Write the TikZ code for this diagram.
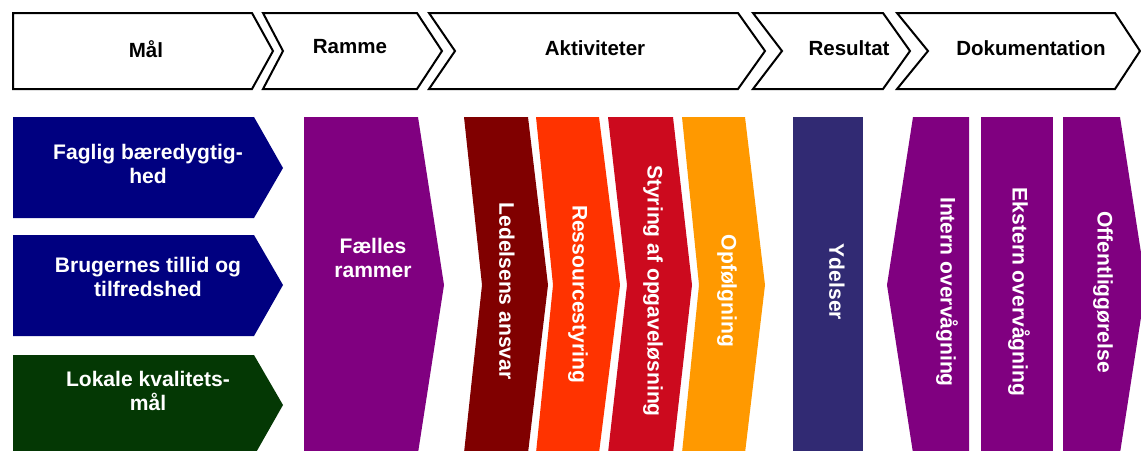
\documentclass[tikz,border=0pt]{standalone}
\usepackage{fontspec}
\setmainfont{Liberation Sans}
\usepackage{xcolor}
\usepackage{tikz}
\usetikzlibrary{positioning}
\definecolor{Ink}{HTML}{000000}
\definecolor{Navy}{HTML}{000080}
\definecolor{Forest}{HTML}{043804}
\definecolor{Plum}{HTML}{800080}
\definecolor{Maroon}{HTML}{800000}
\definecolor{Flame}{HTML}{FF3300}
\definecolor{Crimson}{HTML}{CC0A1E}
\definecolor{Amber}{HTML}{FF9900}
\definecolor{Indigo}{HTML}{312A73}
\tikzset{
  hdr/.style={draw=Ink,line width=1.5pt,fill=white,line join=miter},
  hdrlabel/.style={font=\fontsize{15.4}{18}\selectfont\bfseries,text=Ink},
  boxlabel/.style={font=\fontsize{15.8}{18.4}\selectfont\bfseries,text=white,align=center},
  vlabel/.style={boxlabel,rotate=-90,font=\fontsize{15.8}{18.4}\selectfont\bfseries}
}
\begin{document}
\begin{tikzpicture}[x=0.75pt,y=-0.75pt]
  \useasboundingbox (0,0) rectangle (1141,450);
  \clip (0,0) rectangle (1141,450);
  % header arrows
  \draw[hdr] (13,13) -- (252,13) -- (273,51) -- (252,89) -- (13,89) -- cycle;
  \draw[hdr] (263,13) -- (417,13) -- (442,51) -- (417,89) -- (263,89) -- (283,51) -- cycle;
  \draw[hdr] (429,13) -- (738,13) -- (765,51) -- (738,89) -- (429,89) -- (455,51) -- cycle;
  \draw[hdr] (753,13) -- (883,13) -- (910,51) -- (883,89) -- (753,89) -- (782,51) -- cycle;
  \draw[hdr] (897,13) -- (1115,13) -- (1140,51) -- (1115,89) -- (897,89) -- (928,51) -- cycle;
  \node[hdrlabel] (maal) at (146,49) {Mål};
  \node[hdrlabel] (ramme) at (350,47) {Ramme};
  \node[hdrlabel] (aktiv) at (595,48) {Aktiviteter};
  \node[hdrlabel] (result) at (849,48) {Resultat};
  \node[hdrlabel] (dok) at (1031,48) {Dokumentation};
  % goals
  \fill[Navy] (13,117) -- (254,117) -- (283,168) -- (254,218) -- (13,218) -- cycle;
  \fill[Navy] (13,235) -- (254,235) -- (283,285) -- (254,336) -- (13,336) -- cycle;
  \fill[Forest] (13,355) -- (254,355) -- (283,405) -- (254,456) -- (13,456) -- cycle;
  \node[boxlabel] (faglig) at (148,164) {Faglig bæredygtig-\\hed};
  \node[boxlabel] (brugere) at (148,277) {Brugernes tillid og\\tilfredshed};
  \node[boxlabel] (lokale) at (148,391) {Lokale kvalitets-\\mål};
  % frame
  \fill[Plum] (304,117) -- (418,117) -- (444,285) -- (418,453) -- (304,453) -- cycle;
  \node[boxlabel] (faelles) at (373,258) {Fælles\\rammer};
  % activities
  \fill[Maroon] (464,117) -- (528,117) -- (548,285) -- (528,453) -- (464,453) -- (482,285) -- cycle;
  \fill[Flame] (536,117) -- (599,117) -- (620,285) -- (599,453) -- (536,453) -- (553,285) -- cycle;
  \fill[Crimson] (608,117) -- (673,117) -- (692,285) -- (673,453) -- (608,453) -- (627,285) -- cycle;
  \fill[Amber] (682,117) -- (745,117) -- (765,285) -- (745,453) -- (682,453) -- (699,285) -- cycle;
  \node[vlabel] (ledelse) at (507,291) {Ledelsens ansvar};
  \node[vlabel] (ressource) at (578,294) {Ressourcestyring};
  \node[vlabel] (styring) at (653,291) {Styring af opgaveløsning};
  \node[vlabel] (opfoelg) at (727,291) {Opfølgning};
  % result
  \fill[Indigo] (793,117) rectangle (863,453);
  \node[vlabel] (ydelser) at (837,282) {Ydelser};
  % documentation
  \fill[Plum] (913,117) -- (969,117) -- (969,453) -- (913,453) -- (887,285) -- cycle;
  \fill[Plum] (981,117) rectangle (1053,453);
  \fill[Plum] (1063,117) -- (1120,117) -- (1146,285) -- (1120,453) -- (1063,453) -- cycle;
  \node[vlabel] (intern) at (947,292) {Intern overvågning};
  \node[vlabel] (ekstern) at (1019,292) {Ekstern overvågning};
  \node[vlabel] (offentlig) at (1103,292) {Offentliggørelse};
\end{tikzpicture}
\end{document}
